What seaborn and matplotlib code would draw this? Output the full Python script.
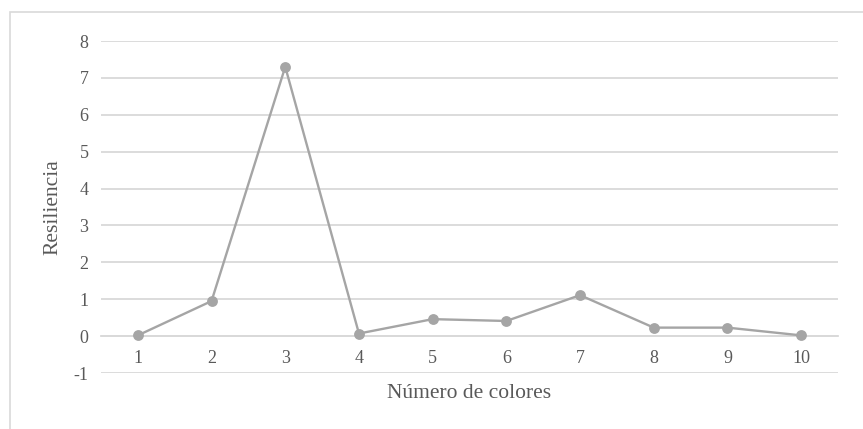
import matplotlib
matplotlib.use("Agg")
import matplotlib.pyplot as plt
import seaborn as sns
import pandas as pd
from matplotlib.patches import Rectangle

colores = [1, 2, 3, 4, 5, 6, 7, 8, 9, 10]
resiliencia = [0.02, 0.95, 7.30, 0.07, 0.46, 0.41, 1.11, 0.23, 0.23, 0.02]
x_labels = [str(c) for c in colores]

sns.set_theme(style="white")
plt.rcParams["font.family"] = ["Liberation Serif", "DejaVu Serif"]
plt.rcParams["axes.unicode_minus"] = False

df = pd.DataFrame({"pos": range(len(colores)), "Resiliencia": resiliencia})

fig = plt.figure(figsize=(8.63, 4.29), dpi=100)
ax = fig.add_axes([101 / 863, 1 - 373 / 429, 737 / 863, 332 / 429])

# outer chart frame (partially cropped like the reference)
fig.patches.append(Rectangle((10 / 863, 0 - 0.05), 1.2, (429 - 12) / 429 + 0.05,
                             transform=fig.transFigure, fill=False,
                             edgecolor="#d9d9d9", linewidth=1.2, zorder=0))

sns.lineplot(data=df, x="pos", y="Resiliencia", ax=ax, color="#a5a5a5",
             linewidth=1.7, marker="o", markersize=7.8, markeredgewidth=0,
             zorder=3)

ax.set_xlim(-0.5, len(colores) - 0.5)
ax.set_ylim(-1, 8)
ax.set_yticks(range(-1, 9))
ax.set_xticks(range(len(colores)))
ax.set_xticklabels(x_labels)
ax.grid(axis="y", color="#d9d9d9", linewidth=1.3)
ax.grid(axis="x", visible=False)
ax.set_axisbelow(True)

for s in ["top", "right", "left"]:
    ax.spines[s].set_visible(False)
ax.spines["bottom"].set_position(("data", 0))
ax.spines["bottom"].set_color("#d9d9d9")
ax.spines["bottom"].set_linewidth(1.3)

ax.tick_params(axis="x", length=0, pad=10, labelsize=13, labelcolor="#595959")
ax.tick_params(axis="y", length=0, pad=9, labelsize=13, labelcolor="#595959")

ax.set_xlabel("Número de colores", fontsize=15.5, color="#595959")
ax.set_ylabel("Resiliencia", fontsize=15.5, color="#595959")
ax.xaxis.label.set_va("center")
ax.yaxis.label.set_va("center")
ax.xaxis.set_label_coords(0.5, -0.062)
ax.yaxis.set_label_coords(-0.065, 0.5)

fig.savefig("out.png", dpi=100)
